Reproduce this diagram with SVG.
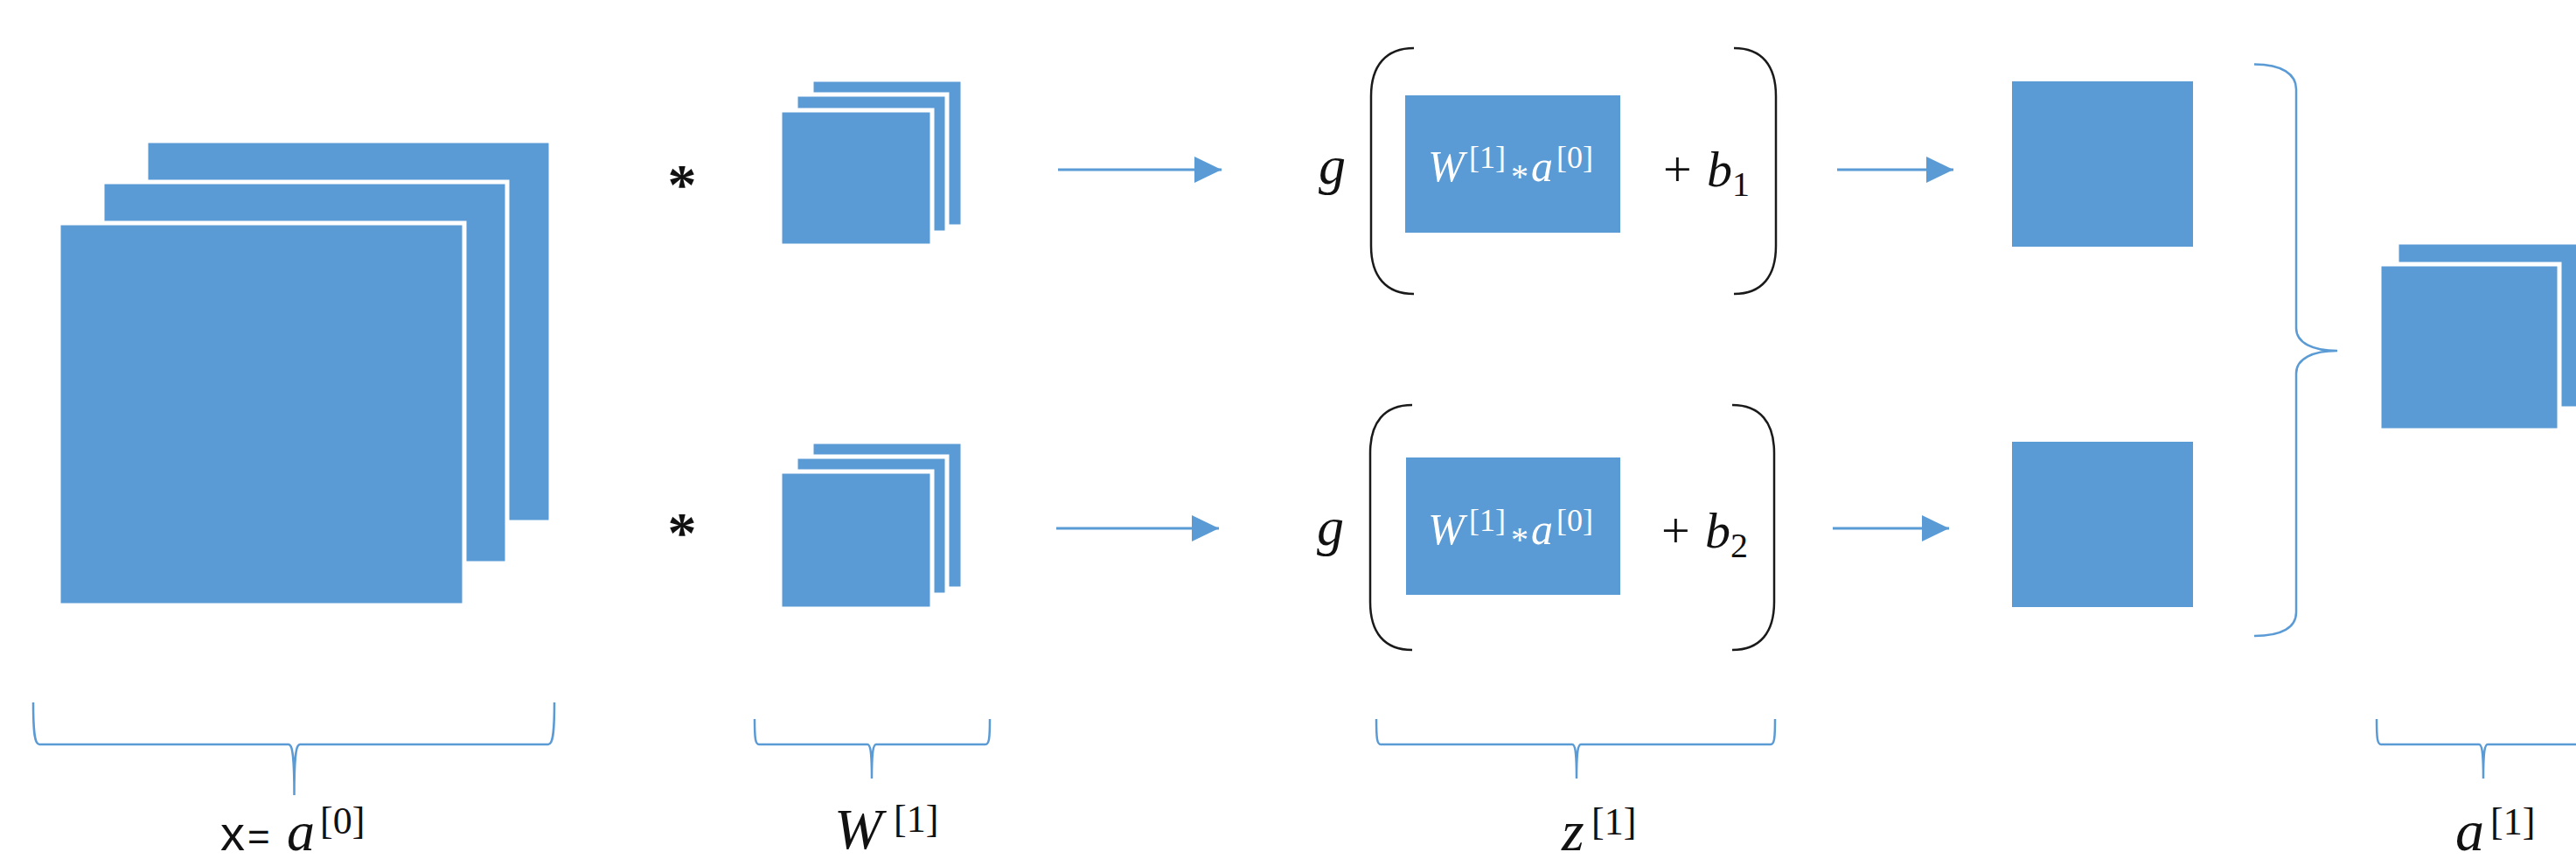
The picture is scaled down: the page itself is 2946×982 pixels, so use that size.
<svg xmlns="http://www.w3.org/2000/svg" width="2946" height="982" viewBox="0 0 2946 982">
<defs>
<style>
.blk{fill:#5B9BD5;stroke:#fff;stroke-width:5}
.sq{fill:#5B9BD5}
.par{fill:none;stroke:#1a1a1a;stroke-width:2.5}
.brace{fill:none;stroke:#5B9BD5;stroke-width:2.5}
.conn{stroke:#5B9BD5;stroke-width:3;fill:none}
.m{font-family:"Liberation Serif",serif;fill:#111}
.it{font-style:italic}
.wt{fill:#ffffff}
.sans{font-family:"Liberation Sans",sans-serif}
.star{font-family:"Liberation Serif",serif;fill:#111;font-weight:bold}
</style>
<marker id="ah" markerUnits="userSpaceOnUse" markerWidth="32" markerHeight="31" refX="31" refY="15" orient="auto">
<path d="M0,0 L31,15 L0,30 Z" fill="#5B9BD5"/>
</marker>
</defs>
<rect width="2946" height="982" fill="#fff"/>

<g id="input-a0">
<rect class="blk" x="167" y="161" width="463" height="436"/>
<rect class="blk" x="117" y="208" width="463" height="436"/>
<rect class="blk" x="67" y="255" width="464" height="437"/>
</g>

<g id="star-top"><text class="star" x="780" y="233" font-size="66" text-anchor="middle">*</text></g>
<g id="star-bottom"><text class="star" x="780" y="631" font-size="66" text-anchor="middle">*</text></g>

<g id="filter-top">
<rect class="blk" x="928" y="91" width="173" height="168"/>
<rect class="blk" x="910" y="108" width="173" height="158"/>
<rect class="blk" x="892" y="126" width="174" height="155"/>
</g>
<g id="filter-bottom">
<rect class="blk" x="928" y="505" width="173" height="168"/>
<rect class="blk" x="910" y="522" width="173" height="158"/>
<rect class="blk" x="892" y="539" width="174" height="157"/>
</g>

<g id="expr-top">
<text class="m it" x="1508" y="210" font-size="62">g</text>
<path class="par" d="M1617,55 C1585,55 1568,75 1568,110 L1568,281 C1568,316 1585,336 1617,336"/>
<rect class="sq" x="1607" y="109" width="246" height="157"/>
<text class="m wt" font-size="50" y="207"><tspan class="it" x="1633">W</tspan><tspan x="1680" y="192" font-size="36">[1]</tspan><tspan x="1728" y="215" font-size="40">*</tspan><tspan class="it" x="1751" y="207">a</tspan><tspan x="1780" y="192" font-size="36">[0]</tspan></text>
<text class="m" font-size="58" y="213"><tspan x="1902">+</tspan><tspan class="it" x="1952">b</tspan><tspan x="1981" y="224" font-size="40">1</tspan></text>
<path class="par" d="M1983,55 C2015,55 2031,75 2031,110 L2031,281 C2031,316 2015,336 1983,336"/>
</g>

<g id="expr-bottom">
<text class="m it" x="1506" y="623" font-size="62">g</text>
<path class="par" d="M1615,463 C1583,463 1567,483 1567,518 L1567,688 C1567,723 1583,743 1615,743"/>
<rect class="sq" x="1608" y="523" width="245" height="157"/>
<text class="m wt" font-size="50" y="622"><tspan class="it" x="1633">W</tspan><tspan x="1680" y="607" font-size="36">[1]</tspan><tspan x="1728" y="630" font-size="40">*</tspan><tspan class="it" x="1751" y="622">a</tspan><tspan x="1780" y="607" font-size="36">[0]</tspan></text>
<text class="m" font-size="58" y="626"><tspan x="1900">+</tspan><tspan class="it" x="1950">b</tspan><tspan x="1979" y="637" font-size="40">2</tspan></text>
<path class="par" d="M1981,463 C2013,463 2029,483 2029,518 L2029,688 C2029,723 2013,743 1981,743"/>
</g>

<g id="out-top"><rect class="sq" x="2301" y="93" width="207" height="189"/></g>
<g id="out-bottom"><rect class="sq" x="2301" y="505" width="207" height="189"/></g>

<g id="stack-brace"><path class="brace" d="M2578,73.5 C2610,73.5 2626,85 2626,102 L2626,375 C2626,392 2645,401 2673,401 C2645,401 2626,410 2626,427 L2626,700 C2626,717 2610,727 2578,727"/></g>

<g id="output-a1">
<rect class="blk" x="2741" y="277" width="212" height="190"/>
<rect class="blk" x="2721" y="302" width="206" height="190"/>
</g>

<g id="connectors">
<line class="conn" x1="1210" y1="194" x2="1397" y2="194" marker-end="url(#ah)"/>
<line class="conn" x1="1208" y1="604" x2="1394" y2="604" marker-end="url(#ah)"/>
<line class="conn" x1="2101" y1="194" x2="2234" y2="194" marker-end="url(#ah)"/>
<line class="conn" x1="2096" y1="604" x2="2229" y2="604" marker-end="url(#ah)"/>
</g>

<g id="label-a0">
<path class="brace" d="M38,803 C38,840 40,851 45,851 L330,851 C334,851 336.5,860 336.5,909 C336.5,860 339,851 343,851 L627,851 C632,851 634,840 634,803"/>
<text class="m" font-size="64" y="972"><tspan class="sans" x="252" font-size="56">x</tspan><tspan class="sans" x="283" font-size="44">=</tspan><tspan class="it" x="328">a</tspan><tspan x="366" y="953" font-size="44">[0]</tspan></text>
</g>
<g id="label-W1">
<path class="brace" d="M863,822 C863,845 864,851 868,851 L992,851 C995,851 997,858 997,890 C997,858 999,851 1002,851 L1127,851 C1131,851 1132,845 1132,822"/>
<text class="m" font-size="66" y="970"><tspan class="it" x="954">W</tspan><tspan x="1022" y="951" font-size="44">[1]</tspan></text>
</g>
<g id="label-z1">
<path class="brace" d="M1574,822 C1574,845 1575,851 1579,851 L1798,851 C1801,851 1803,858 1803,890 C1803,858 1805,851 1808,851 L2025,851 C2029,851 2030,845 2030,822"/>
<text class="m" font-size="66" y="972"><tspan class="it" x="1786">z</tspan><tspan x="1820" y="954" font-size="44">[1]</tspan></text>
</g>
<g id="label-a1">
<path class="brace" d="M2718,822 C2718,845 2719,851 2723,851 L2835,851 C2838,851 2840,858 2840,890 C2840,858 2842,851 2845,851 L2957,851 C2961,851 2962,845 2962,822"/>
<text class="m" font-size="66" y="972"><tspan class="it" x="2808">a</tspan><tspan x="2848" y="954" font-size="44">[1]</tspan></text>
</g>
</svg>
